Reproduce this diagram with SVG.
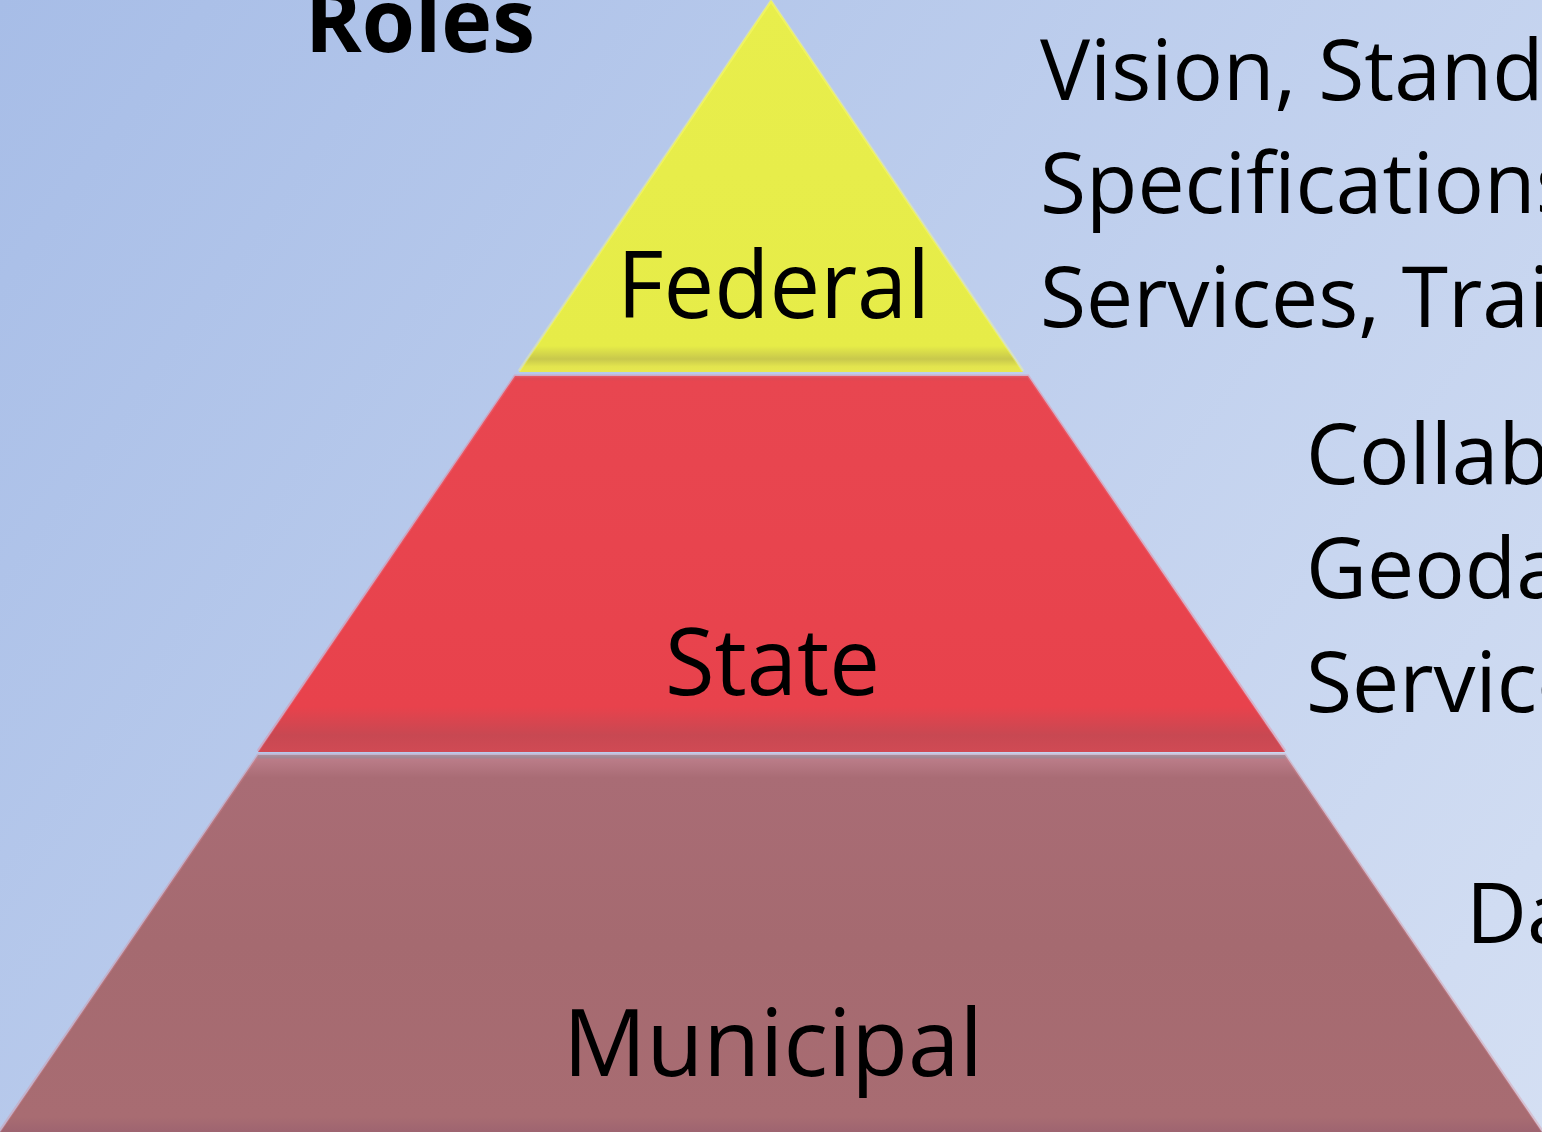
<svg xmlns="http://www.w3.org/2000/svg" width="1542" height="1132" viewBox="0 0 1542 1132">
<defs>
<linearGradient id="bg" x1="0" y1="0" x2="1542" y2="1132" gradientUnits="userSpaceOnUse">
<stop offset="0" stop-color="#A7BDE7"/>
<stop offset="1" stop-color="#D4DFF3"/>
</linearGradient>
<linearGradient id="gY" x1="0" y1="0" x2="0" y2="1">
<stop offset="0" stop-color="#E8EE4C"/>
<stop offset="0.93" stop-color="#E6EC48"/>
<stop offset="0.965" stop-color="#C8C84C"/>
<stop offset="0.985" stop-color="#E2E44E"/>
<stop offset="1" stop-color="#E8E850"/>
</linearGradient>
<linearGradient id="gR" x1="0" y1="0" x2="0" y2="1">
<stop offset="0" stop-color="#D84A55"/>
<stop offset="0.015" stop-color="#E84650"/>
<stop offset="0.88" stop-color="#E8424C"/>
<stop offset="0.955" stop-color="#C84852"/>
<stop offset="1" stop-color="#D04A54"/>
</linearGradient>
<linearGradient id="gM" x1="0" y1="0" x2="0" y2="1">
<stop offset="0" stop-color="#8C92A0"/>
<stop offset="0.012" stop-color="#BA7C88"/>
<stop offset="0.06" stop-color="#A96C75"/>
<stop offset="0.5" stop-color="#A56A70"/>
<stop offset="0.96" stop-color="#A86C72"/>
<stop offset="1" stop-color="#9E6470"/>
</linearGradient>
<style>
.lbl{font-family:"Open Sans","Liberation Sans",sans-serif;font-size:94px;fill:#000}
.side{font-family:"Open Sans","Liberation Sans",sans-serif;font-size:84px;fill:#000}
.title{font-family:"Open Sans","Liberation Sans",sans-serif;font-size:88px;font-weight:bold;fill:#000}
.edge{fill:none;stroke-width:3;stroke-opacity:0.35}
</style>
</defs>
<rect width="1542" height="1132" fill="url(#bg)"/>
<text class="title" x="305" y="52" textLength="230" lengthAdjust="spacingAndGlyphs">Roles</text>
<g id="municipal">
<polygon points="258,755 1285,755 1542,1132 0,1132" fill="url(#gM)"/>
<polyline class="edge" points="0,1131 258,755 1285,755 1542,1131" stroke="#D88A96"/>
<text class="lbl" x="563" y="1076" textLength="420" lengthAdjust="spacingAndGlyphs">Municipal</text>
</g>
<g id="state">
<polygon points="515,376 1028,376 1285,752 258,752" fill="url(#gR)"/>
<polyline class="edge" points="258,751 515,376 1028,376 1285,751" stroke="#F07080"/>
<text class="lbl" x="665" y="695" textLength="215" lengthAdjust="spacingAndGlyphs">State</text>
</g>
<g id="federal">
<polygon points="771,0 1023,372 519,372" fill="url(#gY)"/>
<polyline class="edge" points="519,371 771,1 1023,371" stroke="#FFFF80"/>
<text class="lbl" x="617" y="318" textLength="313" lengthAdjust="spacingAndGlyphs">Federal</text>
</g>
<g id="notes">
<text class="side" x="1040" y="100">Vision, Standards</text>
<text class="side" x="1040" y="213">Specifications</text>
<text class="side" x="1040" y="327">Services, Training</text>
<text class="side" x="1306" y="484">Collaboration</text>
<text class="side" x="1306" y="598">Geodata</text>
<text class="side" x="1306" y="712">Services</text>
<text class="side" x="1466" y="943">Data</text>
</g>
</svg>
